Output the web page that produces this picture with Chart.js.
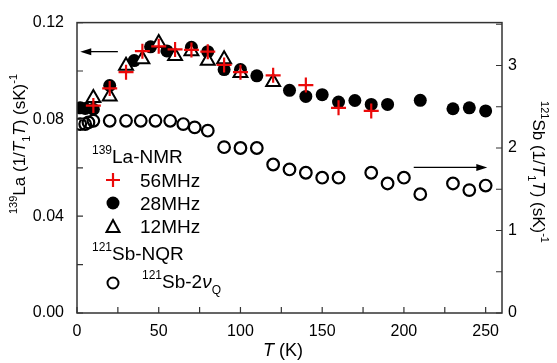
<!DOCTYPE html>
<html>
<head>
<meta charset="utf-8">
<script src="https://cdn.jsdelivr.net/npm/chart.js@4.4.1/dist/chart.umd.min.js"></script>
<style>
  html, body { margin: 0; padding: 0; background: #fff; }
  #wrap { width: 557px; height: 363px; }
</style>
</head>
<body>
<div id="wrap"><canvas id="chart" width="557" height="363"></canvas></div>
<script>
// 139La-NMR, 56 MHz (left axis)
const temp56 = [10, 20, 30, 40, 50, 60, 70, 80, 90, 100, 120, 140, 160, 180];
const la56 = [0.0857, 0.0928, 0.0995, 0.1082, 0.1102, 0.1089, 0.1087, 0.1080, 0.1025, 0.0995, 0.0982, 0.0942, 0.0848, 0.0835];

// 139La-NMR, 28 MHz
const temp28 = [2, 5, 10, 20, 35, 45, 55, 70, 80, 90, 100, 110, 130, 140, 150, 160, 170, 180, 190, 210, 230, 240, 250];
const la28 = [0.0848, 0.0845, 0.0842, 0.0940, 0.1043, 0.1100, 0.1083, 0.1098, 0.1080, 0.1006, 0.1006, 0.0980, 0.0920, 0.0895, 0.0902, 0.0872, 0.0878, 0.0862, 0.0862, 0.0879, 0.0844, 0.0848, 0.0835];

// 139La-NMR, 12 MHz
const temp12 = [10, 20, 30, 40, 50, 60, 70, 80, 90, 100, 120];
const la12 = [0.0888, 0.0895, 0.1022, 0.1049, 0.1116, 0.1062, 0.1082, 0.1042, 0.1049, 0.0992, 0.0955];

// 121Sb-NQR, 2nuQ line (right axis)
const tempSb = [2, 5, 7, 10, 20, 30, 39, 48, 57, 65, 72, 80, 90, 100, 110, 120, 130, 140, 150, 160, 180, 190, 200, 210, 230, 240, 250];
const sb = [2.29, 2.29, 2.31, 2.33, 2.33, 2.33, 2.33, 2.33, 2.33, 2.29, 2.25, 2.21, 2.01, 2.00, 2.00, 1.80, 1.74, 1.70, 1.64, 1.64, 1.70, 1.57, 1.64, 1.44, 1.57, 1.49, 1.545];

const FONT = '"Liberation Sans", Arial, sans-serif';
const RED = 'rgb(235, 10, 10)';
const FRAME = '#333';

function xy(xs, ys) {
    return xs.map((x, i) => ({ x: x, y: ys[i] }));
}

// text made of pieces: plain, sup, sub, italic
function textRuns(ctx, runs, x, y, size, align) {
    const small = Math.round(size * 0.62);
    const font = r => (r.it ? 'italic ' : '') + ((r.sup || r.sub) ? small : size) + 'px ' + FONT;
    let total = 0;
    runs.forEach(r => { ctx.font = font(r); total += ctx.measureText(r.t).width; });
    let cx = align === 'center' ? x - total / 2 : x;
    ctx.textAlign = 'left';
    ctx.textBaseline = 'alphabetic';
    runs.forEach(r => {
        ctx.font = font(r);
        const dy = r.sup ? -size * 0.45 : (r.sub ? size * 0.3 : 0);
        ctx.fillText(r.t, cx, y + dy);
        cx += ctx.measureText(r.t).width;
    });
}

function arrow(ctx, x1, y, x2) {
    const dir = x2 > x1 ? 1 : -1;
    ctx.beginPath();
    ctx.moveTo(x1, y);
    ctx.lineTo(x2 - dir * 8, y);
    ctx.stroke();
    ctx.beginPath();
    ctx.moveTo(x2, y);
    ctx.lineTo(x2 - dir * 11, y - 3.5);
    ctx.lineTo(x2 - dir * 11, y + 3.5);
    ctx.closePath();
    ctx.fill();
}

const decorations = {
    id: 'decorations',
    afterDraw(chart) {
        const ctx = chart.ctx;
        const a = chart.chartArea;
        const xs = chart.scales.x, yl = chart.scales.y, yr = chart.scales.y2;
        ctx.save();

        // frame
        ctx.strokeStyle = FRAME;
        ctx.lineWidth = 1.5;
        ctx.strokeRect(a.left, a.top, a.right - a.left, a.bottom - a.top);

        // inward ticks
        ctx.lineWidth = 1.2;
        ctx.beginPath();
        xs.ticks.forEach(t => {
            const p = xs.getPixelForValue(t.value);
            ctx.moveTo(p, a.bottom); ctx.lineTo(p, a.bottom - 6);
        });
        yl.ticks.forEach(t => {
            const p = yl.getPixelForValue(t.value);
            ctx.moveTo(a.left, p); ctx.lineTo(a.left + 6, p);
        });
        yr.ticks.forEach(t => {
            const p = yr.getPixelForValue(t.value);
            ctx.moveTo(a.right, p); ctx.lineTo(a.right - 6, p);
        });
        ctx.stroke();

        ctx.fillStyle = '#000';
        ctx.strokeStyle = '#000';

        // axis titles
        textRuns(ctx, [{ t: 'T', it: true }, { t: ' (K)' }], 283, 356, 18, 'center');

        ctx.save();
        ctx.translate(25, 144);
        ctx.rotate(-Math.PI / 2);
        textRuns(ctx, [{ t: '139', sup: true }, { t: 'La (1/' }, { t: 'T', it: true }, { t: '1', sub: true },
            { t: 'T', it: true }, { t: ') (sK)' }, { t: '-1', sup: true }], 0, 0, 17, 'center');
        ctx.restore();

        ctx.save();
        ctx.translate(533, 172);
        ctx.rotate(Math.PI / 2);
        textRuns(ctx, [{ t: '121', sup: true }, { t: 'Sb (1/' }, { t: 'T', it: true }, { t: '1', sub: true },
            { t: 'T', it: true }, { t: ') (sK)' }, { t: '-1', sup: true }], 0, 0, 17, 'center');
        ctx.restore();

        // arrows pointing to the axes
        ctx.lineWidth = 1.3;
        arrow(ctx, xs.getPixelForValue(25), yl.getPixelForValue(0.108), xs.getPixelForValue(2));
        arrow(ctx, xs.getPixelForValue(206), yr.getPixelForValue(1.765), xs.getPixelForValue(251));

        // legend
        const mx = 113;
        textRuns(ctx, [{ t: '139', sup: true }, { t: 'La-NMR' }], 92, 163, 19);

        ctx.strokeStyle = RED;
        ctx.lineWidth = 2.2;
        ctx.beginPath();
        ctx.moveTo(mx - 7, 180); ctx.lineTo(mx + 7, 180);
        ctx.moveTo(mx, 173); ctx.lineTo(mx, 187);
        ctx.stroke();
        textRuns(ctx, [{ t: '56MHz' }], 140, 187, 19);

        ctx.fillStyle = '#000';
        ctx.beginPath();
        ctx.arc(mx, 203, 6.5, 0, Math.PI * 2);
        ctx.fill();
        textRuns(ctx, [{ t: '28MHz' }], 140, 210, 19);

        ctx.strokeStyle = '#000';
        ctx.lineWidth = 2;
        ctx.beginPath();
        ctx.moveTo(mx, 220); ctx.lineTo(mx + 6.5, 232); ctx.lineTo(mx - 6.5, 232);
        ctx.closePath();
        ctx.stroke();
        textRuns(ctx, [{ t: '12MHz' }], 140, 233, 19);

        textRuns(ctx, [{ t: '121', sup: true }, { t: 'Sb-NQR' }], 92, 260, 19);

        ctx.beginPath();
        ctx.arc(mx, 283, 5.5, 0, Math.PI * 2);
        ctx.stroke();
        textRuns(ctx, [{ t: '121', sup: true }, { t: 'Sb-2' }, { t: 'ν', it: true }, { t: 'Q', sub: true }], 142, 288, 19);

        ctx.restore();
    }
};

new Chart(document.getElementById('chart'), {
    type: 'scatter',
    data: {
        datasets: [{
            label: '56MHz',
            data: xy(temp56, la56),
            yAxisID: 'y',
            pointStyle: 'cross',
            pointRadius: 7.5,
            borderColor: RED,
            backgroundColor: RED,
            borderWidth: 2.2
        }, {
            label: '12MHz',
            data: xy(temp12, la12),
            yAxisID: 'y',
            pointStyle: 'triangle',
            pointRadius: 8,
            borderColor: '#000',
            backgroundColor: '#fff',
            borderWidth: 2
        }, {
            label: '28MHz',
            data: xy(temp28, la28),
            yAxisID: 'y',
            pointStyle: 'circle',
            pointRadius: 6.5,
            borderColor: '#000',
            backgroundColor: '#000',
            borderWidth: 0
        }, {
            label: '121Sb-2nuQ',
            data: xy(tempSb, sb),
            yAxisID: 'y2',
            pointStyle: 'circle',
            pointRadius: 5.8,
            borderColor: '#000',
            backgroundColor: 'rgba(0,0,0,0)',
            borderWidth: 2.2
        }]
    },
    options: {
        responsive: false,
        animation: false,
        events: [],
        layout: { padding: { top: 14, left: 0, right: 0, bottom: 0 } },
        plugins: {
            legend: { display: false },
            tooltip: { enabled: false }
        },
        scales: {
            x: {
                type: 'linear',
                min: 0,
                max: 260,
                grid: { display: false, drawTicks: false },
                border: { display: false },
                ticks: {
                    stepSize: 25,
                    includeBounds: false,
                    maxRotation: 0,
                    autoSkip: false,
                    padding: 9,
                    color: '#000',
                    font: { family: FONT, size: 16 },
                    callback: v => (v % 50 === 0 ? String(v) : '')
                },
                afterFit(scale) { scale.height = 50; }
            },
            y: {
                type: 'linear',
                position: 'left',
                min: 0,
                max: 0.12,
                grid: { display: false, drawTicks: false },
                border: { display: false },
                ticks: {
                    stepSize: 0.02,
                    includeBounds: false,
                    autoSkip: false,
                    padding: 13,
                    color: '#000',
                    font: { family: FONT, size: 16 },
                    callback: v => (Math.abs(v / 0.04 - Math.round(v / 0.04)) < 1e-6 ? v.toFixed(2) : '')
                },
                afterFit(scale) { scale.width = 77; }
            },
            y2: {
                type: 'linear',
                position: 'right',
                min: 0,
                max: 3.52,
                grid: { display: false, drawTicks: false },
                border: { display: false },
                ticks: {
                    stepSize: 0.5,
                    includeBounds: false,
                    autoSkip: false,
                    padding: 6,
                    color: '#000',
                    font: { family: FONT, size: 16 },
                    callback: v => (Number.isInteger(v) ? String(v) : '')
                },
                afterFit(scale) { scale.width = 55; }
            }
        }
    },
    plugins: [decorations]
});
</script>
</body>
</html>
